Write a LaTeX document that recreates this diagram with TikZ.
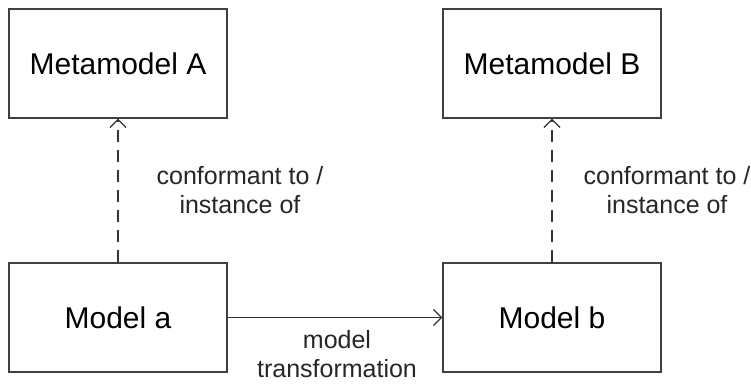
\documentclass[tikz,border=0pt]{standalone}
\usepackage{fontspec}
\setmainfont{Liberation Sans}
\usetikzlibrary{arrows.meta, positioning}

\tikzset{
  mbox/.style={draw=black!75, line width=1.3pt, minimum width=218pt,
               minimum height=109pt, inner sep=0pt, font=\fontsize{30}{34}\selectfont},
  lbl/.style={align=center, font=\fontsize{25}{29}\selectfont, text=black!85},
  conn/.style={draw=black!80, line width=1.3pt}
}

\begin{document}
\begin{tikzpicture}[x=1pt, y=1pt, >={Straight Barb[length=8pt, width=16pt]}]
  \useasboundingbox (0,0) rectangle (751,385);

  % Metamodels
  \node[mbox] (metaA) at (118, 321.5) {Metamodel A};
  \node[mbox] (metaB) at (552, 321.5) {Metamodel B};

  % Models
  \node[mbox] (modA) at (118, 67.5) {Model a};
  \node[mbox] (modB) at (552, 67.5) {Model b};

  % conformance
  \draw[conn, dash pattern=on 12pt off 8pt, ->] (modA) -- (metaA);
  \draw[conn, dash pattern=on 12pt off 8pt, ->] (modB) -- (metaB);
  \node[lbl] (confA) at (240, 194.5) {conformant to /\\instance of};
  \node[lbl] (confB) at (667, 194.5) {conformant to /\\instance of};

  % transformation
  \draw[conn, ->] (modA) -- (modB);
  \node[lbl, inner sep=0pt] (trans) at (337, 30.5) {model\\transformation};
\end{tikzpicture}
\end{document}
